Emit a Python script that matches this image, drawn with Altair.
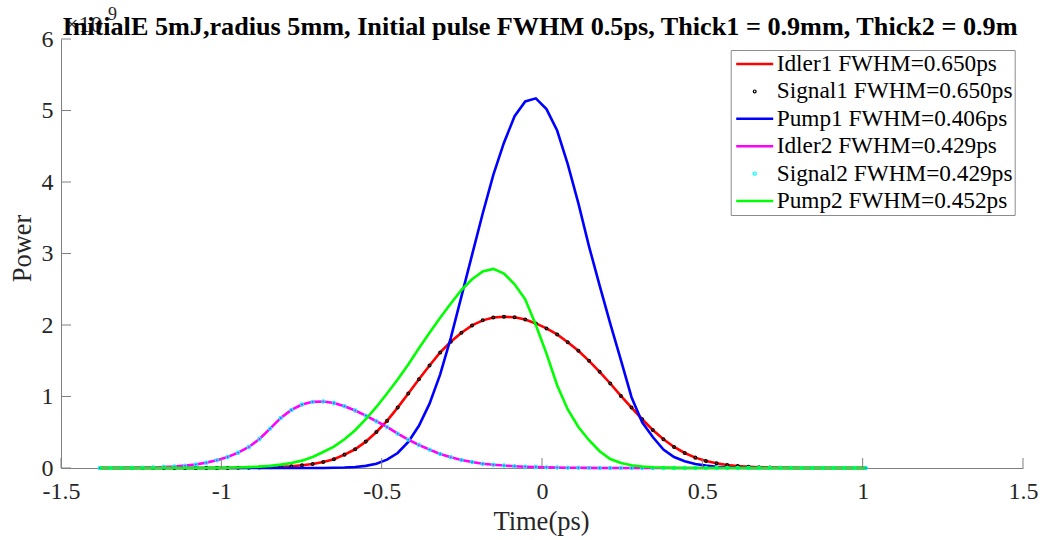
import altair as alt
import pandas as pd

FONT = "Liberation Serif"

time_ps = [-1.3783, -1.3452, -1.3120, -1.2789, -1.2457, -1.2126, -1.1794, -1.1463, -1.1131, -1.0800,
           -1.0468, -1.0137, -0.9805, -0.9474, -0.9142, -0.8811, -0.8479, -0.8148, -0.7816, -0.7485,
           -0.7153, -0.6822, -0.6490, -0.6159, -0.5827, -0.5496, -0.5164, -0.4833, -0.4501, -0.4170,
           -0.3838, -0.3507, -0.3175, -0.2844, -0.2512, -0.2181, -0.1849, -0.1518, -0.1186, -0.0855,
           -0.0523, -0.0192, 0.0140, 0.0472, 0.0803, 0.1135, 0.1466, 0.1798, 0.2129, 0.2461,
           0.2792, 0.3124, 0.3455, 0.3787, 0.4118, 0.4450, 0.4781, 0.5113, 0.5444, 0.5776,
           0.6107, 0.6439, 0.6770, 0.7102, 0.7433, 0.7765, 0.8096, 0.8428, 0.8759, 0.9091,
           0.9422, 0.9754, 1.0085]

idler1 = [0, 0, 0, 0, 0, 0, 0, 0, 0, 0, 0, 0,
          0.001, 0.002, 0.004, 0.007, 0.011, 0.016, 0.024, 0.038, 0.056, 0.084,
          0.122, 0.187, 0.262, 0.369, 0.504, 0.659, 0.845, 1.042, 1.242, 1.434,
          1.616, 1.765, 1.891, 1.994, 2.065, 2.106, 2.115, 2.108, 2.078, 2.022,
          1.952, 1.868, 1.760, 1.639, 1.499, 1.345, 1.182, 1.008, 0.845, 0.682,
          0.532, 0.402, 0.294, 0.210, 0.145, 0.098, 0.066, 0.042, 0.027, 0.017,
          0.010, 0.006, 0.004, 0.002, 0.001, 0, 0, 0, 0, 0, 0]

signal1 = [0, 0, 0, 0, 0, 0, 0, 0, 0, 0, 0, 0,
           0.001, 0.002, 0.004, 0.007, 0.011, 0.016, 0.024, 0.038, 0.056, 0.084,
           0.122, 0.187, 0.262, 0.369, 0.504, 0.659, 0.845, 1.042, 1.242, 1.434,
           1.616, 1.765, 1.891, 1.994, 2.065, 2.106, 2.115, 2.108, 2.078, 2.022,
           1.952, 1.868, 1.760, 1.639, 1.499, 1.345, 1.182, 1.008, 0.845, 0.682,
           0.532, 0.402, 0.294, 0.210, 0.145, 0.098, 0.066, 0.042, 0.027, 0.017,
           0.010, 0.006, 0.004, 0.002, 0.001, 0, 0, 0, 0, 0, 0]

pump1 = [0, 0, 0, 0, 0, 0, 0, 0, 0, 0, 0, 0, 0, 0, 0, 0, 0, 0, 0, 0, 0,
         0.001, 0.003, 0.006, 0.014, 0.03, 0.06, 0.117, 0.21, 0.364, 0.59,
         0.90, 1.31, 1.82, 2.40, 2.98, 3.56, 4.10, 4.55, 4.92, 5.126,
         5.17, 5.02, 4.72, 4.25, 3.70, 3.10, 2.55, 2.02, 1.51, 0.99,
         0.64, 0.434, 0.258, 0.154, 0.094, 0.056, 0.033, 0.018, 0.009, 0.004,
         0.002, 0.001, 0, 0, 0, 0, 0, 0, 0, 0, 0, 0]

idler2 = [0, 0.001, 0.002, 0.003, 0.005, 0.008, 0.013, 0.021, 0.033, 0.05,
          0.075, 0.108, 0.154, 0.215, 0.294, 0.406, 0.551, 0.70, 0.812, 0.888,
          0.925, 0.93, 0.91, 0.864, 0.804, 0.733, 0.654, 0.574, 0.481, 0.397,
          0.322, 0.257, 0.196, 0.15, 0.112, 0.084, 0.06, 0.046, 0.034, 0.025,
          0.018, 0.013, 0.009, 0.006, 0.004, 0.003, 0.002, 0.001,
          0, 0, 0, 0, 0, 0, 0, 0, 0, 0, 0, 0, 0, 0, 0, 0, 0, 0, 0, 0, 0, 0, 0, 0, 0]

signal2 = [0, 0.001, 0.002, 0.003, 0.005, 0.008, 0.013, 0.021, 0.033, 0.05,
           0.075, 0.108, 0.154, 0.215, 0.294, 0.406, 0.551, 0.70, 0.812, 0.888,
           0.925, 0.93, 0.91, 0.864, 0.804, 0.733, 0.654, 0.574, 0.481, 0.397,
           0.322, 0.257, 0.196, 0.15, 0.112, 0.084, 0.06, 0.046, 0.034, 0.025,
           0.018, 0.013, 0.009, 0.006, 0.004, 0.003, 0.002, 0.001,
           0, 0, 0, 0, 0, 0, 0, 0, 0, 0, 0, 0, 0, 0, 0, 0, 0, 0, 0, 0, 0, 0, 0, 0, 0]

pump2 = [0, 0, 0, 0, 0, 0, 0, 0, 0, 0,
         0.001, 0.002, 0.004, 0.007, 0.012, 0.019, 0.03, 0.047, 0.07, 0.103,
         0.154, 0.224, 0.30, 0.402, 0.528, 0.682, 0.854, 1.042, 1.238, 1.448,
         1.676, 1.891, 2.10, 2.30, 2.49, 2.64, 2.75, 2.785, 2.72, 2.57,
         2.36, 2.0, 1.60, 1.158, 0.818, 0.574, 0.388, 0.234, 0.126, 0.07,
         0.038, 0.02, 0.01, 0.005, 0.002, 0.001,
         0, 0, 0, 0, 0, 0, 0, 0, 0, 0, 0, 0, 0, 0, 0, 0, 0]

series_labels = ["Idler1 FWHM=0.650ps", "Signal1 FWHM=0.650ps", "Pump1 FWHM=0.406ps",
                 "Idler2 FWHM=0.429ps", "Signal2 FWHM=0.429ps", "Pump2 FWHM=0.452ps"]
series_colors = ["#ff0000", "#000000", "#0000ff", "#ff00ff", "#00ffff", "#00ff00"]
series_kind = ["line", "point", "line", "line", "point", "line"]
series_shapes = ["stroke", "circle", "stroke", "stroke", "circle", "stroke"]
series_sym_size = [1369, 1.5, 1369, 1369, 1.5, 1369]
series_sym_width = [2.6, 2.8, 2.6, 2.6, 3.2, 2.6]
series_values = [idler1, signal1, pump1, idler2, signal2, pump2]

x_ticks = [-1.5, -1, -0.5, 0, 0.5, 1, 1.5]
y_ticks = [0, 1, 2, 3, 4, 5, 6]

title_text = "InitialE 5mJ,radius 5mm, Initial pulse FWHM 0.5ps, Thick1 = 0.9mm, Thick2 = 0.9m"
x_title = "Time(ps)"
y_title = "Power"

rows = []
for lab, vals in zip(series_labels, series_values):
    for t, v in zip(time_ps, vals):
        rows.append({"t": t, "v": v, "series": lab})
df = pd.DataFrame(rows)

W, H = 962, 429
AXC = "#808080"
TXT = "#262626"

xscale = alt.Scale(domain=[-1.5, 1.5], nice=False, zero=False)
yscale = alt.Scale(domain=[0, 6], nice=False, zero=False)

x_axis = alt.Axis(values=x_ticks, labelExpr="toString(datum.value)", title=x_title,
                  ticks=False, tickSize=0, domainColor=AXC, domainWidth=1, grid=False,
                  labelFont=FONT, labelFontSize=24, labelColor=TXT, labelPadding=11,
                  labelFlush=False, labelOverlap=False,
                  titleFont=FONT, titleFontSize=26.5, titleFontWeight="normal", titleColor=TXT,
                  titleX=480, titleY=61, titleBaseline="alphabetic", titleAlign="center")
y_axis = alt.Axis(values=y_ticks, labelExpr="toString(datum.value)", title=y_title,
                  ticks=False, tickSize=0, domainColor=AXC, domainWidth=1, grid=False,
                  labelFont=FONT, labelFontSize=24, labelColor=TXT, labelPadding=8,
                  labelFlush=False, labelOverlap=False,
                  titleFont=FONT, titleFontSize=26.5, titleFontWeight="normal", titleColor=TXT,
                  titleX=-25, titleY=209, titleAngle=270, titleBaseline="bottom", titleAlign="center")

legend = alt.Legend(
    title=None, orient="none", legendX=669.7, legendY=11,
    symbolOffset=2, symbolOpacity=1,
    labelFont=FONT, labelFontSize=23.3, labelColor="black", labelOffset=2,
    fillColor="white", strokeColor="#8c8c8c", padding=2, rowPadding=3.4, clipHeight=24,
    labelLimit=400,
)

color_enc = alt.Color("series:N", scale=alt.Scale(domain=series_labels, range=series_colors),
                      sort=series_labels, legend=legend)
shape_enc = alt.Shape("series:N", scale=alt.Scale(domain=series_labels, range=series_shapes),
                      sort=series_labels, legend=legend)
size_enc = alt.Size("series:N", scale=alt.Scale(type="ordinal", domain=series_labels, range=series_sym_size),
                    sort=series_labels, legend=legend)
sw_enc = alt.StrokeWidth("series:N", scale=alt.Scale(type="ordinal", domain=series_labels, range=series_sym_width),
                         sort=series_labels, legend=legend)

base = alt.Chart(df)
layers = []
for lab, kind in zip(series_labels, series_kind):
    sel = base.transform_filter(alt.datum.series == lab)
    if kind == "line":
        m = sel.mark_line(strokeWidth=2.6).encode(
            x=alt.X("t:Q", scale=xscale, axis=x_axis),
            y=alt.Y("v:Q", scale=yscale, axis=y_axis),
            color=color_enc,
        )
    else:
        m = sel.mark_point(filled=False, opacity=1).encode(
            x=alt.X("t:Q", scale=xscale, axis=x_axis),
            y=alt.Y("v:Q", scale=yscale, axis=y_axis),
            color=color_enc, shape=shape_enc, size=size_enc, strokeWidth=sw_enc,
        )
    layers.append(m)

xt = alt.Chart(pd.DataFrame({"tx": x_ticks})).mark_rule(color=AXC, strokeWidth=1).encode(
    x=alt.X("tx:Q", scale=xscale, axis=x_axis), y=alt.value(H), y2=alt.value(H - 10))
yt = alt.Chart(pd.DataFrame({"ty": y_ticks})).mark_rule(color=AXC, strokeWidth=1).encode(
    y=alt.Y("ty:Q", scale=yscale, axis=y_axis), x=alt.value(0), x2=alt.value(10))

one = pd.DataFrame({"a": [0]})
exp_base = alt.Chart(one).mark_text(font=FONT, fontSize=24, color=TXT, align="left",
                                    baseline="alphabetic").encode(
    x=alt.value(4), y=alt.value(-7.3), text=alt.value("×10"))
exp_sup = alt.Chart(one).mark_text(font=FONT, fontSize=18, color=TXT, align="left",
                                   baseline="alphabetic").encode(
    x=alt.value(47), y=alt.value(-19), text=alt.value("9"))
title_mark = alt.Chart(one).mark_text(font=FONT, fontSize=26.2, fontWeight="bold", color="black",
                                      align="center", baseline="alphabetic").encode(
    x=alt.value(479), y=alt.value(-4), text=alt.value(title_text))

chart = alt.layer(*layers, xt, yt, exp_base, exp_sup, title_mark).properties(
    width=W, height=H,
    padding={"left": 61, "top": 39, "right": 24, "bottom": 72},
    autosize=alt.AutoSizeParams(type="none"),
).configure_view(stroke=None)

chart.save("out.html", embed_options={"renderer": "svg", "actions": False})
